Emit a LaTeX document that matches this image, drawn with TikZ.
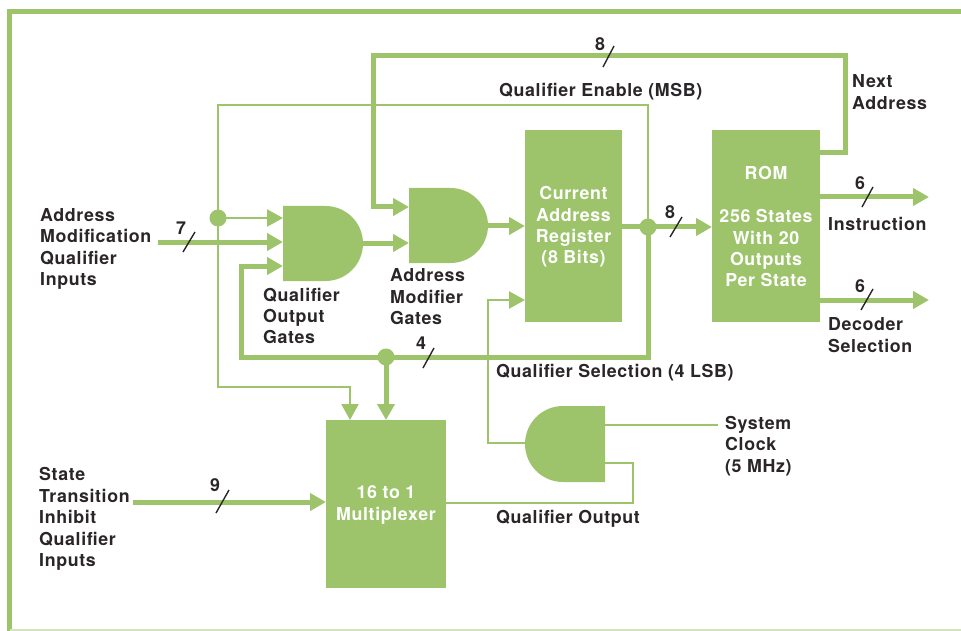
\documentclass[tikz,border=0pt]{standalone}
\usepackage{fontspec}
\setmainfont[LetterSpace=3.5]{TeX Gyre Heros}
\usetikzlibrary{arrows.meta}
\definecolor{hpgreen}{HTML}{9DC46B}
\definecolor{ink}{HTML}{2A2528}
\begin{document}
\begin{tikzpicture}[x=1pt,y=-1pt,
  thickw/.style={draw=hpgreen,line width=5pt},
  thinw/.style={draw=hpgreen,line width=2.5pt},
  tip/.style={-{Triangle[length=16pt,width=17pt]}},
  block/.style={fill=hpgreen,draw=none,rectangle,inner sep=0pt},
  gate/.style={fill=hpgreen,draw=none},
  lbl/.style={font=\bfseries\fontsize{17.8}{21.4}\selectfont,text=ink,align=left,inner sep=0pt},
  wlbl/.style={font=\bfseries\fontsize{17.8}{21.4}\selectfont,text=white,align=center,inner sep=0pt},
  dotj/.style={circle,fill=hpgreen,minimum size=17pt,inner sep=0pt},
  slash/.style={draw=ink,line width=1.4pt},
]
\useasboundingbox (0,0) rectangle (961,631);
% frame
\draw[hpgreen,line width=5pt] (9.5,631) -- (9.5,12) -- (961,12);
\draw[hpgreen!45,line width=2pt] (9.5,630) -- (961,630);

% blocks
\node[block,minimum width=97pt,minimum height=192pt,anchor=north west] (car) at (525,130) {};
\node[block,minimum width=108pt,minimum height=192pt,anchor=north west] (rom) at (712,130) {};
\node[block,minimum width=120pt,minimum height=168pt,anchor=north west] (mux) at (326,420) {};

% gates
\fill[gate] (283,206) -- (325.5,206) arc[start angle=-90,end angle=90,radius=37.5] -- (283,281) -- cycle;
\fill[gate] (409,188) -- (450.5,188) arc[start angle=-90,end angle=90,radius=37.5] -- (409,263) -- cycle;
\fill[gate] (605,406) -- (563,406) arc[start angle=-90,end angle=-270,radius=38] -- (605,482) -- cycle;

% pins
\coordinate (g1a) at (283,218);
\coordinate (g1b) at (283,242);
\coordinate (g1c) at (283,266);
\coordinate (g1o) at (363,243);
\coordinate (g2a) at (409,207);
\coordinate (g2b) at (409,243);
\coordinate (g2o) at (488,226);
\coordinate (g3o) at (525,443);
\coordinate (g3a) at (605,425);
\coordinate (g3b) at (605,463);
\coordinate (in7) at (158,242);
\coordinate (in9) at (133,502);
\coordinate (clk) at (718,425);
\coordinate (romna) at (820,153);
\coordinate (outi) at (929,197);
\coordinate (outd) at (929,300);

% junction dots
\node[dotj] (d1) at (218,218) {};
\node[dotj] (d2) at (386,357) {};
\node[dotj] (jreg) at (648,227) {};

% thin lines
\draw[thinw,tip] (jreg.center) -- (648,105) -- (218,105) -- (218,387) -- (350,387) -- (350,420);
\draw[thinw,tip] (d1.center) -- (g1a);
\draw[thinw,tip] (g3o) -- (488,443) -- (488,300) -- (car.west |- 0,300);
\draw[thinw] (g3a) -- (clk);
\draw[thinw] (mux.east |- 0,503) -- (633,503) -- (633,463) -- (g3b);

% thick lines
\draw[thickw,tip] (in7) -- (g1b);
\draw[thickw,tip] (jreg.center) -- (648,357) -- (241,357) -- (241,266) -- (g1c);
\draw[thickw,tip] (d2.center) -- (386,420);
\draw[thickw,tip] (g1o) -- (g2b);
\draw[thickw,tip] (romna) -- (845,153) -- (845,56) -- (373,56) -- (373,207) -- (g2a);
\draw[thickw,tip] (g2o) -- (car.west |- g2o);
\draw[thickw,tip] (car.east |- 0,227) -- (rom.west |- 0,227);
\draw[thickw,tip] (rom.east |- outi) -- (outi);
\draw[thickw,tip] (rom.east |- outd) -- (outd);
\draw[thickw,tip] (in9) -- (mux.west |- in9);

% bus slashes and widths
\draw[slash] (183,252) -- (195,232);
\node[lbl] (n7) at (181,228) {7};
\draw[slash] (603,67) -- (614,46);
\node[lbl] (n8a) at (600,44) {8};
\draw[slash] (670,237) -- (682,217);
\node[lbl] (n8b) at (670,212) {8};
\draw[slash] (862,207) -- (873,187);
\node[lbl] (n6a) at (860,183) {6};
\draw[slash] (861,310) -- (873,289);
\node[lbl] (n6b) at (860,286) {6};
\draw[slash] (423,368) -- (434,348);
\node[lbl] (n4) at (421,343) {4};
\draw[slash] (216,513) -- (229,490);
\node[lbl] (n9) at (215,485) {9};

% block texts
\node[wlbl] (tcar) at (573.5,227) {Current\\Address\\Register\\(8 Bits)};
\node[wlbl] (trom) at (766,227) {ROM\\[21.4pt]256 States\\With 20\\Outputs\\Per State};
\node[wlbl] (tmux) at (386,505) {16 to 1\\Multiplexer};

% labels
\node[lbl,anchor=west] (lamq) at (40,249) {Address\\Modification\\Qualifier\\Inputs};
\node[lbl,anchor=west] (lqog) at (263,316) {Qualifier\\Output\\Gates};
\node[lbl,anchor=west] (lamg) at (390,297) {Address\\Modifier\\Gates};
\node[lbl,anchor=west] (lqe) at (499,92) {Qualifier Enable (MSB)};
\node[lbl,anchor=west] (lna) at (852,92) {Next\\Address};
\node[lbl,anchor=west] (lins) at (828,224) {Instruction};
\node[lbl,anchor=west] (ldec) at (828,335) {Decoder\\Selection};
\node[lbl,anchor=west] (lqs) at (496,373) {Qualifier Selection (4 LSB)};
\node[lbl,anchor=west] (lclk) at (725,446) {System\\Clock\\(5 MHz)};
\node[lbl,anchor=west] (lqo) at (496,519) {Qualifier Output};
\node[lbl,anchor=west] (lsti) at (39,519) {State\\Transition\\Inhibit\\Qualifier\\Inputs};
\end{tikzpicture}
\end{document}
